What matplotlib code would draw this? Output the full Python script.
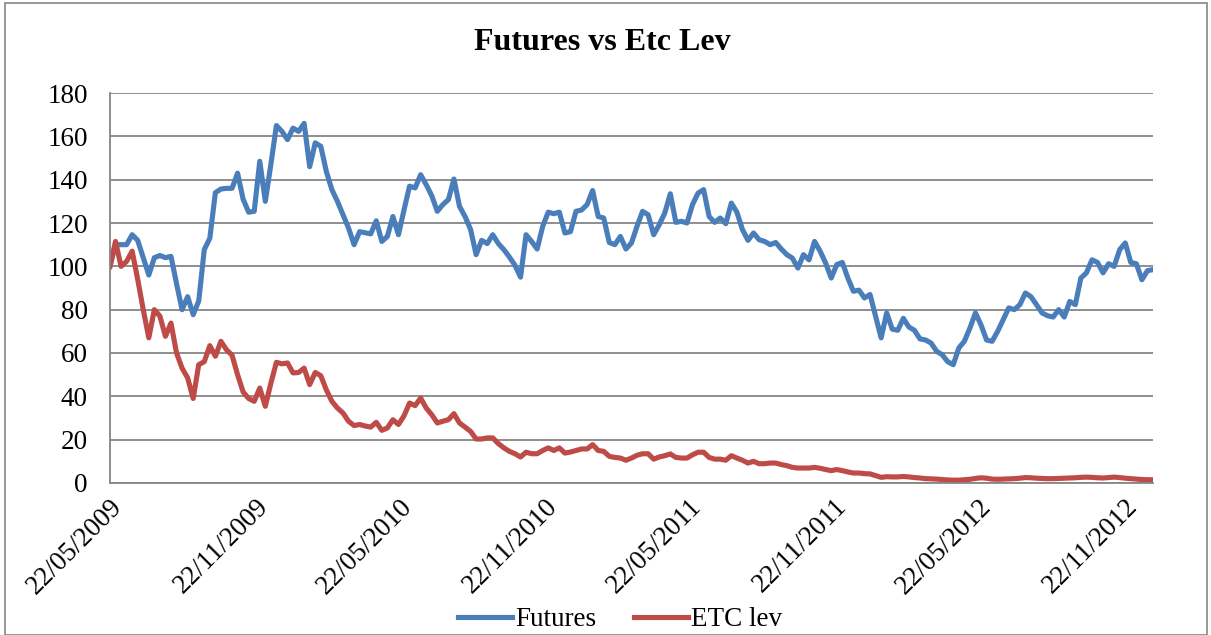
import pandas as pd
import matplotlib.pyplot as plt
import matplotlib.dates as mdates
from matplotlib.patches import Rectangle

# weekly values, starting 22/05/2009
futures = [100, 110, 110, 110, 114.6, 112, 104, 96, 104, 105,
           104, 104.6, 92, 80, 86, 77.7, 84, 107.7, 113, 134,
           135.7, 136, 136, 143, 131, 125, 125.4, 148.5, 130, 147,
           165, 162.3, 158.5, 163.8, 162.3, 166, 146, 157, 155.4, 143.8,
           135.4, 130, 123.8, 117.7, 110, 116, 115.5, 115, 121, 111.5,
           113.8, 123, 114.6, 126, 137, 136.2, 142.3, 137.7, 132.6, 125.4,
           128.5, 130.8, 140.3, 127.7, 123, 117, 105.4, 112, 110.5, 114.6,
           110.5, 107.7, 104.3, 100.5, 95, 114.6, 111.5, 108, 118.5, 125,
           124.3, 125, 115.4, 116, 125.4, 126, 128.5, 135, 123, 122.3,
           111, 110, 113.8, 108, 110.8, 118.5, 125.4, 123.8, 114.6, 119.2,
           124.6, 133.5, 120.3, 120.8, 120, 128.5, 133.8, 135.4, 123, 120.3,
           122.3, 119.7, 129.2, 125, 117, 112, 115.4, 112.3, 111.5, 110,
           111, 108, 105.4, 103.8, 99.2, 105.4, 103, 111.5, 107, 101.5,
           94.6, 100.8, 101.8, 94.6, 88.5, 89, 85.4, 87, 77, 67,
           78.5, 71, 70.5, 76, 72, 70.5, 66.5, 66, 64.6, 60.8,
           59.2, 56, 54.6, 62.3, 65.4, 71.5, 78.5, 73, 66, 65.4,
           70, 75.4, 80.8, 80, 82.3, 87.7, 86, 82.3, 78.5, 77.2,
           76.6, 80, 76.6, 83.8, 82.3, 94.6, 97, 103, 101.8, 97,
           101.2, 100, 107.7, 110.8, 101.8, 101.2, 93.8, 98, 98.5]

etc_lev = [100, 111.5, 100, 102.3, 107, 94, 80, 67, 80, 77,
           67.7, 73.8, 60, 53, 48.5, 39, 54.6, 56, 63.4, 58.5,
           65.4, 61.5, 59, 50, 42, 39, 37.7, 43.8, 35.4, 46,
           55.7, 55, 55.4, 50.8, 51, 53, 45.4, 51, 49.5, 43,
           37.7, 34.6, 32.3, 28.5, 26.5, 27, 26.3, 25.8, 28, 24.3,
           25.4, 29.2, 27, 31, 36.9, 35.7, 39.2, 34.6, 31.5, 27.7,
           28.5, 29.2, 32, 27.7, 25.8, 23.8, 20.3, 20.3, 20.8, 20.8,
           18.2, 16.2, 14.6, 13.5, 12, 14.2, 13.5, 13.5, 15, 16.2,
           15, 16.2, 13.8, 14.3, 15, 15.7, 15.7, 17.7, 15, 14.6,
           12.3, 11.8, 11.5, 10.5, 11.5, 12.8, 13.5, 13.5, 11, 12,
           12.6, 13.4, 11.8, 11.5, 11.5, 13, 14.2, 14.2, 11.8, 11,
           11, 10.5, 12.6, 11.5, 10.5, 9.2, 10, 8.9, 8.9, 9.2,
           9.2, 8.5, 8, 7.2, 6.9, 6.9, 6.9, 7.2, 6.8, 6.2,
           5.7, 6.2, 5.7, 5.1, 4.6, 4.6, 4.3, 4.2, 3.4, 2.6,
           2.9, 2.8, 2.8, 3.0, 2.8, 2.5, 2.3, 2.0, 1.9, 1.8,
           1.6, 1.4, 1.3, 1.3, 1.5, 1.7, 2.1, 2.4, 2.2, 1.8,
           1.7, 1.8, 1.9, 2.0, 2.2, 2.5, 2.4, 2.2, 2.1, 2.0,
           2.0, 2.1, 2.2, 2.3, 2.4, 2.6, 2.7, 2.6, 2.4, 2.3,
           2.5, 2.7, 2.5, 2.2, 2.0, 1.8, 1.6, 1.5, 1.5]

tick_dates = ["2009-05-22", "2009-11-22", "2010-05-22", "2010-11-22",
              "2011-05-22", "2011-11-22", "2012-05-22", "2012-11-22"]

dates = pd.date_range("2009-05-22", periods=len(futures), freq="7D")

plt.rcParams["font.family"] = ["Liberation Serif", "DejaVu Serif"]

fig = plt.figure(figsize=(12.11, 6.35), dpi=100)
ax = fig.add_axes([0.0908, 0.2394, 0.8613, 0.6141])

ax.plot(dates, futures, color="#4A7EBB", lw=3.7, label="Futures", solid_joinstyle="round")
ax.plot(dates, etc_lev, color="#BE4B48", lw=3.7, label="ETC lev", solid_joinstyle="round")

ax.set_ylim(0, 180)
ax.set_yticks(range(0, 181, 20))
ax.set_xlim(dates[0], dates[-1])
ax.set_xticks(pd.to_datetime(tick_dates))
ax.xaxis.set_major_formatter(mdates.DateFormatter("%d/%m/%Y"))
ax.grid(axis="y", color="#868686", lw=1.3)
ax.set_axisbelow(True)
for s in ["top", "right"]:
    ax.spines[s].set_visible(False)
for s in ["left", "bottom"]:
    ax.spines[s].set_color("#868686")
    ax.spines[s].set_linewidth(1.3)
ax.tick_params(axis="y", length=0, pad=16, labelsize=19.5)
ax.tick_params(axis="x", length=0, pad=8, labelsize=19.5)
plt.setp(ax.get_xticklabels(), rotation=45, ha="right", rotation_mode="anchor")

fig.text(0.497, 0.933, "Futures vs Etc Lev", fontsize=23, fontweight="bold",
         ha="center", va="center")

fig.legend(loc="center", bbox_to_anchor=(0.512, 0.024), ncol=2, frameon=False,
           fontsize=19.5, handlelength=2.0, handletextpad=0.1, columnspacing=1.4,
           borderpad=0)

fig.patches.append(Rectangle((5 / 1211, 0), 1202 / 1211, 632 / 635,
                             transform=fig.transFigure, fill=False,
                             edgecolor="#868686", lw=1.2))

fig.savefig("out.png", dpi=100)
